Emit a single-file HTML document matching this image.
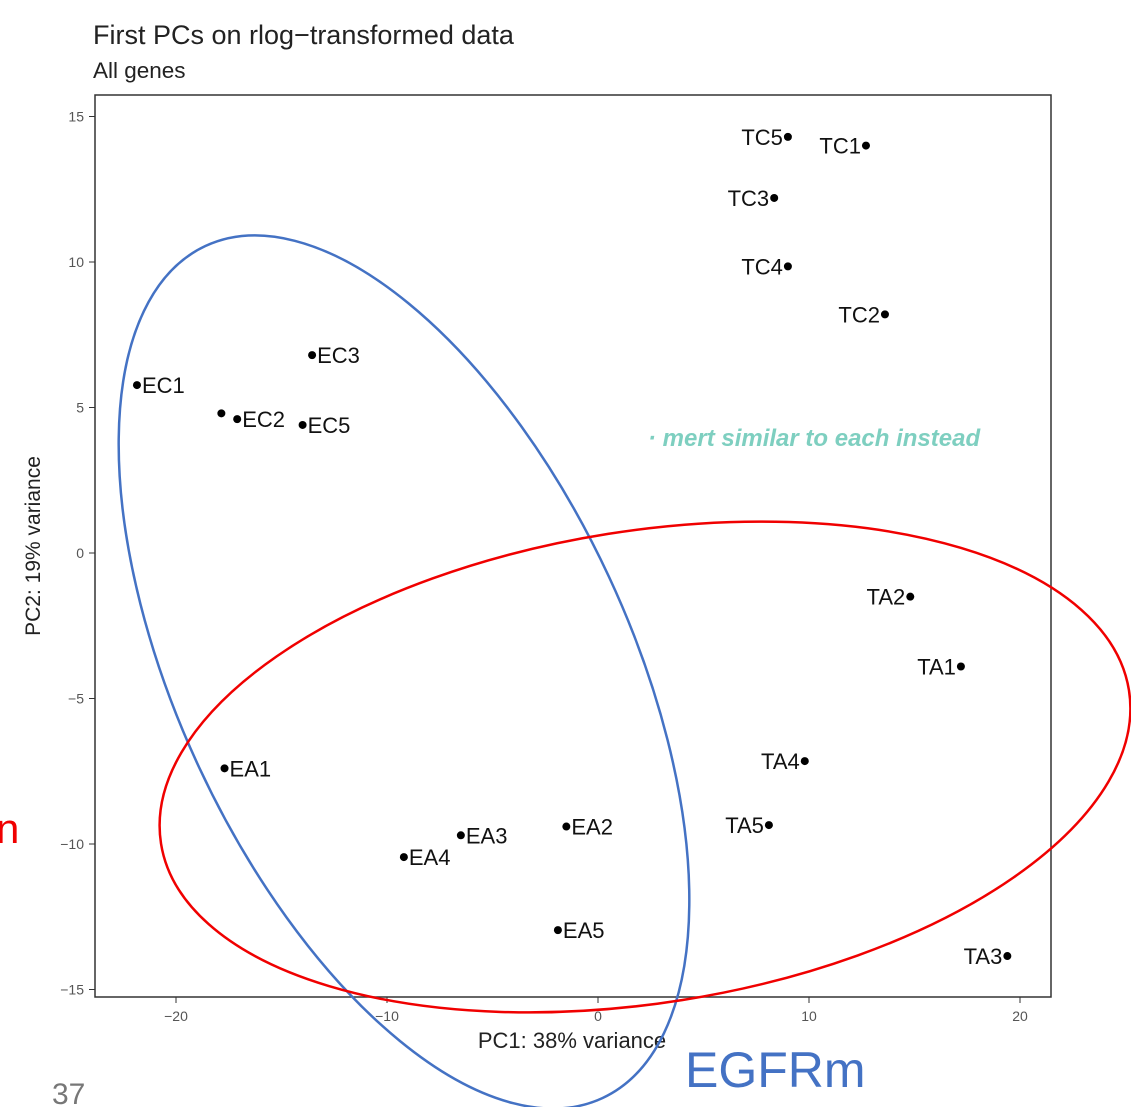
<!DOCTYPE html>
<html><head><meta charset="utf-8"><style>
body{margin:0;background:#fff;overflow:hidden;}
svg{display:block;font-family:"Liberation Sans",sans-serif;}
</style></head><body>
<svg id="chart" width="1131" height="1107" viewBox="0 0 1131 1107">
<text x="93" y="44" font-size="27" fill="#222">First PCs on rlog−transformed data</text>
<text x="93" y="78" font-size="22.5" fill="#222">All genes</text>
<rect x="95" y="95" width="956" height="902" fill="none" stroke="#333" stroke-width="1.5"/>
<g id="xticks"></g>
<g id="yticks"></g>
<text x="572" y="1048" font-size="22" text-anchor="middle" fill="#222">PC1: 38% variance</text>
<text transform="translate(40,546) rotate(-90)" font-size="21" text-anchor="middle" fill="#222">PC2: 19% variance</text>
<g id="points"></g>
<ellipse cx="404" cy="672" rx="470" ry="226" transform="rotate(65 404 672)" fill="none" stroke="#4472c4" stroke-width="2.5"/>
<ellipse cx="645" cy="767" rx="490" ry="236" transform="rotate(-9 645 767)" fill="none" stroke="#f00000" stroke-width="2.5"/>
<text x="-4" y="843" font-size="42" fill="#f00000">n</text>
<text x="52" y="1104" font-size="30" fill="#777">37</text>
<text x="685" y="1087" font-size="50" fill="#4472c4">EGFRm</text>
<text x="648" y="446" font-size="24" fill="#7ecfc0" font-style="italic" font-weight="bold">· mert similar to each instead</text>
</svg>
<script>
const xTicks=[-20,-10,0,10,20];
const yTicks=[15,10,5,0,-5,-10,-15];
const labels=["TC5","TC1","TC3","TC4","TC2","EC3","EC1","EC4","EC2","EC5","TA2","TA1","TA4","TA5","TA3","EA1","EA2","EA3","EA4","EA5"];
const pc1=[9.0,12.7,8.35,9.0,13.6,-13.55,-21.85,-17.85,-17.1,-14.0,14.8,17.2,9.8,8.1,19.4,-17.7,-1.5,-6.5,-9.2,-1.9];
const pc2=[14.3,14.0,12.2,9.85,8.2,6.8,5.77,4.8,4.6,4.4,-1.5,-3.9,-7.15,-9.35,-13.85,-7.4,-9.4,-9.7,-10.45,-12.96];
const showLabel=[1,1,1,1,1,1,1,0,1,1,1,1,1,1,1,1,1,1,1,1];
const NS="http://www.w3.org/2000/svg";
const X=v=>598+21.1*v, Y=v=>553-29.1*v;
function mk(t,a,p){const e=document.createElementNS(NS,t);for(const k in a)e.setAttribute(k,a[k]);p.appendChild(e);return e;}
const gx=document.getElementById('xticks'),gy=document.getElementById('yticks'),gp=document.getElementById('points');
xTicks.forEach(v=>{
 const l=mk('line',{x1:X(v),x2:X(v),y1:997,y2:1003,stroke:'#333'},gx);
 
 
 const t=mk('text',{x:X(v),y:1021,'font-size':14,'text-anchor':'middle',fill:'#555'},gx);
 t.textContent=v<0?'−'+(-v):v;
 
 
});
yTicks.forEach(v=>{
 const l=mk('line',{x1:89,x2:95,y1:Y(v),y2:Y(v),stroke:'#333'},gy);
 
 
 const t=mk('text',{x:84,y:Y(v)+5,'font-size':14,'text-anchor':'end',fill:'#555'},gy);
 t.textContent=v<0?'−'+(-v):v;
 
 
});
labels.forEach((lab,i)=>{
 const cx=X(pc1[i]),cy=Y(pc2[i]);
 const c=mk('circle',{cx:cx,cy:cy,r:4,fill:'#000'},gp);
 
 
 if(!showLabel[i])return;
 const left=lab[0]==='T';
 const t=mk('text',{x:left?cx-5:cx+5,y:cy+8,'font-size':22,'text-anchor':left?'end':'start',fill:'#111'},gp);
 t.textContent=lab;
 
 
});
</script>
</body></html>
